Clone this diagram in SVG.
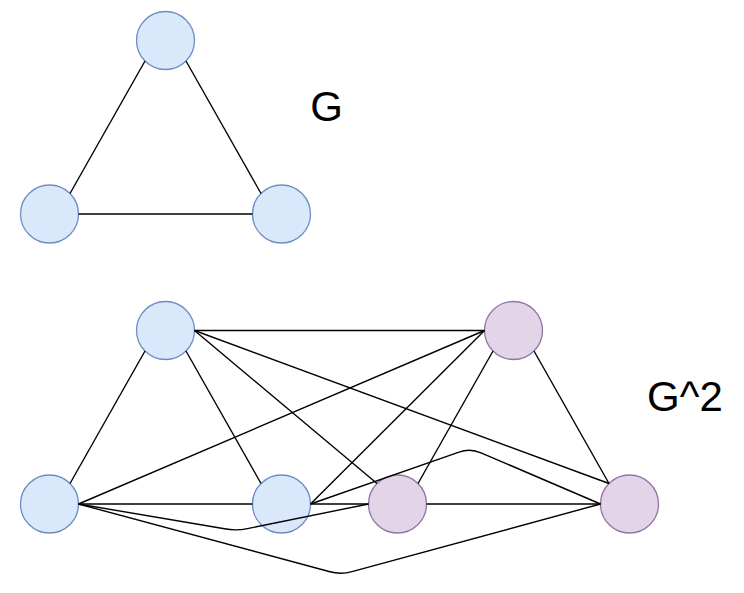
<svg xmlns="http://www.w3.org/2000/svg" width="744" height="593" viewBox="0 0 744 593">
<style>
.blue{fill:#dae8fc;stroke:#6c8ebf;stroke-width:1.3}
.purple{fill:#e1d5e7;stroke:#9673a6;stroke-width:1.3}
.edge{fill:none;stroke:#000;stroke-width:1.4;stroke-linejoin:round}
.lbl{font-family:"Liberation Sans",Arial,sans-serif;font-size:42px;fill:#000}
</style>
<rect width="744" height="593" fill="#fff"/>
<g id="g-top"><circle class="blue" cx="165.5" cy="40.5" r="29"/></g>
<g id="g-left"><circle class="blue" cx="49.5" cy="214" r="29"/></g>
<g id="g-right"><circle class="blue" cx="281.5" cy="214" r="29"/></g>
<g id="label-G"><text class="lbl" x="326.5" y="120.5" text-anchor="middle">G</text></g>
<g id="g2-tl"><circle class="blue" cx="165.5" cy="330.5" r="29"/></g>
<g id="g2-tr"><circle class="purple" cx="513.5" cy="330.5" r="29"/></g>
<g id="g2-bl"><circle class="blue" cx="49.5" cy="504" r="29"/></g>
<g id="g2-bm"><circle class="blue" cx="281.5" cy="504" r="29"/></g>
<g id="g2-pm"><circle class="purple" cx="397.5" cy="504" r="29"/></g>
<g id="g2-br"><circle class="purple" cx="629.5" cy="504" r="29"/></g>
<g id="label-G2"><text class="lbl" x="647" y="411">G^2</text></g>
<g id="connectors">
<path class="edge" d="M145 61 L70 193.5"/>
<path class="edge" d="M186 61 L261 193.5"/>
<path class="edge" d="M78.5 214 H252.5"/>
<path class="edge" d="M194.5 330.5 H484.5"/>
<path class="edge" d="M145 351 L70 483.5"/>
<path class="edge" d="M186 351 L261 483.5"/>
<path class="edge" d="M194.5 330.5 L377 483.5"/>
<path class="edge" d="M194.5 330.5 L609 483.5"/>
<path class="edge" d="M484.5 330.5 L78.5 504"/>
<path class="edge" d="M484.5 330.5 L310.5 504"/>
<path class="edge" d="M493 351 L418 483.5"/>
<path class="edge" d="M534 351 L609 483.5"/>
<path class="edge" d="M78.5 504 H252.5"/>
<path class="edge" d="M310.5 504 H368.5"/>
<path class="edge" d="M426.5 504 H600.5"/>
<path class="edge" d="M78.5 504 L224.5 528.8 Q236 531 247.5 528.6 L368.5 504"/>
<path class="edge" d="M78.5 504 L329 571.5 Q340.5 575 352 571.7 L600.5 504"/>
<path class="edge" d="M310.5 504 L459 452.2 Q470 448 481 452.8 L600.5 504"/>
</g>
</svg>
